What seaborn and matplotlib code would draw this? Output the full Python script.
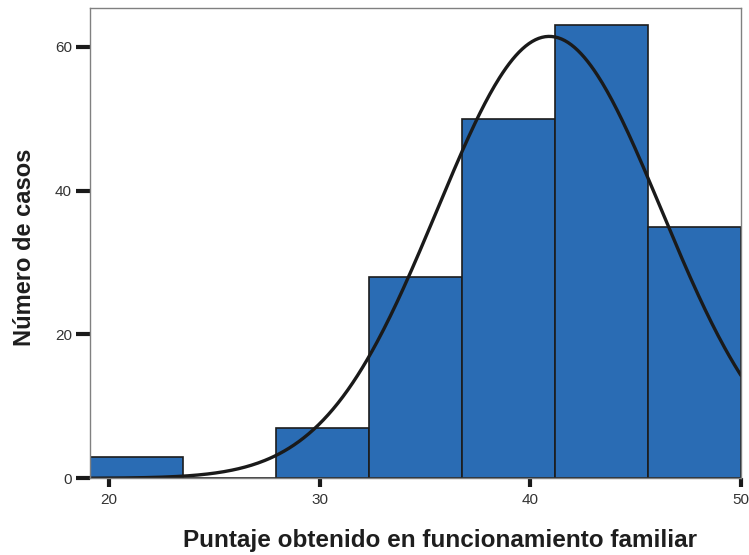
import numpy as np
import pandas as pd
import matplotlib
matplotlib.use("Agg")
import matplotlib.pyplot as plt
import seaborn as sns

# Data
bin_edges = [19.1, 23.514, 27.929, 32.343, 36.757, 41.171, 45.586, 50.0]
counts = [3, 0, 7, 28, 50, 63, 35]
curve_mean = 40.9
curve_sd = 5.33
x_ticks = [20, 30, 40, 50]
y_ticks = [0, 20, 40, 60]

sns.set_style("white")
plt.rcParams['font.family'] = ['Liberation Sans', 'DejaVu Sans']

fig = plt.figure(figsize=(7.49, 5.55), dpi=100)
ax = fig.add_axes([90/749, 1-478.3/555, (741-90)/749, (478.3-8)/555])

centers = [(bin_edges[i] + bin_edges[i+1]) / 2 for i in range(len(counts))]
df = pd.DataFrame({"x": centers, "w": counts})
sns.histplot(data=df, x="x", weights="w", bins=bin_edges, ax=ax,
             color="#2a6cb4", alpha=1, edgecolor="#1c1c1c", linewidth=1.2)

# Fitted normal curve scaled to counts
N = sum(counts)
width = bin_edges[1] - bin_edges[0]
xs = np.linspace(bin_edges[0], bin_edges[-1], 400)
ys = N * width / (curve_sd * np.sqrt(2 * np.pi)) * np.exp(-0.5 * ((xs - curve_mean) / curve_sd) ** 2)
sns.lineplot(x=xs, y=ys, ax=ax, color="#1a1a1a", linewidth=2.4)

ax.set_xlim(bin_edges[0], bin_edges[-1])
ax.set_ylim(0, 65.4)
ax.set_xticks(x_ticks)
ax.set_yticks(y_ticks)
ax.tick_params(axis="both", direction="out", width=3, color="#1a1a1a",
               labelsize=11, labelcolor="#333333", bottom=True, left=True)
ax.tick_params(axis="y", length=10, pad=3)
ax.tick_params(axis="x", length=6.5, pad=4)
for s in ax.spines.values():
    s.set_color("#808080")
    s.set_linewidth(1.0)
    s.set_visible(True)

ax.set_xlabel("Puntaje obtenido en funcionamiento familiar", fontsize=17.5,
              fontweight="bold", color="#1e1e1e")
ax.set_ylabel("Número de casos", fontsize=17, fontweight="bold", color="#1e1e1e")
ax.xaxis.label.set_va("center")
ax.yaxis.label.set_va("center")
ax.xaxis.set_label_coords((440 - 90) / 651, (478.3 - 540) / 470.3)
ax.yaxis.set_label_coords((25 - 90) / 651, (478.3 - 247) / 470.3)

fig.savefig("out.png", dpi=100)
